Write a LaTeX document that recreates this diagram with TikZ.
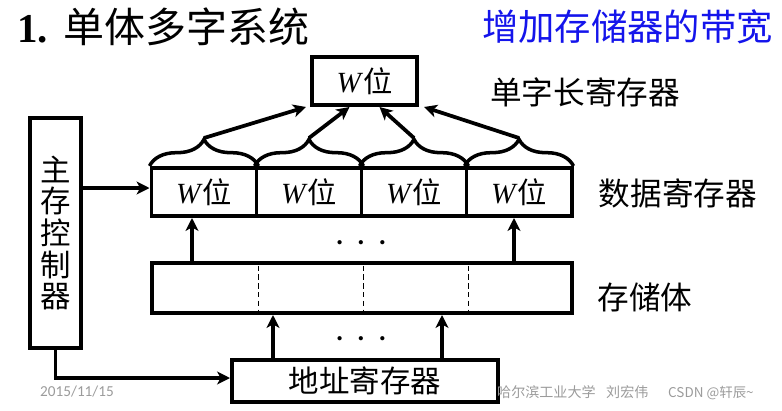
\documentclass[tikz,border=0pt]{standalone}
\usepackage{fontspec}
\setmainfont{Liberation Serif}
\newfontfamily\cjk{Noto Sans CJK SC}
\newfontfamily\datefont{Carlito}
\usetikzlibrary{arrows.meta, positioning, decorations.pathreplacing}
\definecolor{bandblue}{RGB}{20,20,235}
\definecolor{footgray}{RGB}{155,155,155}

\begin{document}
\begin{tikzpicture}[
    x=0.03cm, y=-0.03cm,
    every node/.style={inner sep=0pt},
    box/.style={rectangle, draw=black, line width=3.4pt, fill=white},
    cell/.style={box, minimum width=3.15cm, minimum height=1.44cm,
                 font=\fontsize{25}{25}\selectfont},
    lbl/.style={font=\cjk\fontsize{27}{27}\selectfont},
    arrow/.style={-{Stealth[length=11pt, width=11pt, inset=3pt]}, line width=3.2pt},
    brace/.style={decorate, decoration={brace, amplitude=0.8cm}, line width=3pt},
    sep/.style={line width=1.2pt, dash pattern=on 4.5pt off 3pt},
    gap/.style={font=\fontsize{15}{15}\selectfont},
    foot/.style={font=\fontsize{12}{12}\selectfont, text=footgray},
]
\useasboundingbox (0,0) rectangle (782,410);

% titles
\node[anchor=west, font=\fontsize{35}{35}\selectfont] (title) at (17,27)
    {\textbf{1.}\hspace{13pt}{\cjk 单体多字系统}};
\node[anchor=east, text=bandblue, font=\cjk\fontsize{31}{31}\selectfont] (goal) at (773,27)
    {增加存储器的带宽};

% registers and memory
\node[cell] (top) at (364.5,81) {\textit{W}{\cjk 位}};
\node[cell] (w1) at (204,192) {\textit{W}{\cjk 位}};
\node[cell] (w2) at (309,192) {\textit{W}{\cjk 位}};
\node[cell] (w3) at (414,192) {\textit{W}{\cjk 位}};
\node[cell] (w4) at (519,192) {\textit{W}{\cjk 位}};
\node[box, minimum width=12.6cm, minimum height=1.5cm] (store) at (362,288) {};
\node[box, minimum width=7.98cm, minimum height=1.26cm,
      font=\cjk\fontsize{26}{26}\selectfont] (addr) at (365,381) {地址寄存器};
\node[box, minimum width=1.53cm, minimum height=6.9cm, align=center,
      font=\cjk\fontsize{26}{27}\selectfont] (ctrl) at (55.5,233) {主\\存\\控\\制\\器};

\node[lbl] (single) at (585,92) {单字长寄存器};
\node[lbl] (data) at (678,193) {数据寄存器};
\node[lbl] (body) at (645,297) {存储体};

\node[gap] (dots1) at (361,245) {\textbullet\hspace{13pt}\textbullet\hspace{13pt}\textbullet};
\node[gap] (dots2) at (361,341) {\textbullet\hspace{13pt}\textbullet\hspace{13pt}\textbullet};

% word boundaries in the memory
\draw[sep] ([yshift=-4pt]w1.east |- store.north) -- ([yshift=4pt]w1.east |- store.south);
\draw[sep] ([yshift=-4pt]w2.east |- store.north) -- ([yshift=4pt]w2.east |- store.south);
\draw[sep] ([yshift=-4pt]w3.east |- store.north) -- ([yshift=4pt]w3.east |- store.south);

% braces over the data register
\draw[brace] (w1.north west) -- (w1.north east);
\draw[brace] (w2.north west) -- (w2.north east);
\draw[brace] (w3.north west) -- (w3.north east);
\draw[brace] (w4.north west) -- (w4.north east);
\coordinate (t1) at ([yshift=0.84cm]w1.north);
\coordinate (t2) at ([yshift=0.84cm]w2.north);
\coordinate (t3) at ([yshift=0.84cm]w3.north);
\coordinate (t4) at ([yshift=0.84cm]w4.north);

\draw[arrow] (t1) -- ([xshift=-0.12cm]top.south west);
\draw[arrow] (t2) -- ([xshift=-0.45cm]top.south);
\draw[arrow] (t3) -- ([xshift=0.45cm]top.south);
\draw[arrow] (t4) -- ([xshift=0.15cm]top.south east);

\draw[arrow] ([xshift=-0.36cm]w1.south |- store.north) -- ([xshift=-0.36cm]w1.south);
\draw[arrow] ([xshift=-0.15cm]w4.south |- store.north) -- ([xshift=-0.15cm]w4.south);
\draw[arrow] ([xshift=-2.76cm]addr.north) -- ([xshift=-2.76cm]addr.north |- store.south);
\draw[arrow] ([xshift=2.31cm]addr.north) -- ([xshift=2.31cm]addr.north |- store.south);

\draw[arrow] ([yshift=0.12cm]ctrl.east |- w1.west) -- ([yshift=0.12cm]w1.west);
\draw[arrow] (ctrl.south) |- ([yshift=0.09cm]addr.west);

% footer
\node[foot, anchor=west, font=\datefont\fontsize{13}{13}\selectfont] (date) at (40,392) {2015/11/15};
\node[foot, anchor=west, font=\cjk\fontsize{12}{12}\selectfont] (school) at (497,392) {哈尔滨工业大学\hspace{9pt}刘宏伟};
\node[foot, anchor=west, font=\cjk\fontsize{11.5}{11.5}\selectfont] (mark) at (668,393) {CSDN @轩辰\textasciitilde};
\end{tikzpicture}
\end{document}
